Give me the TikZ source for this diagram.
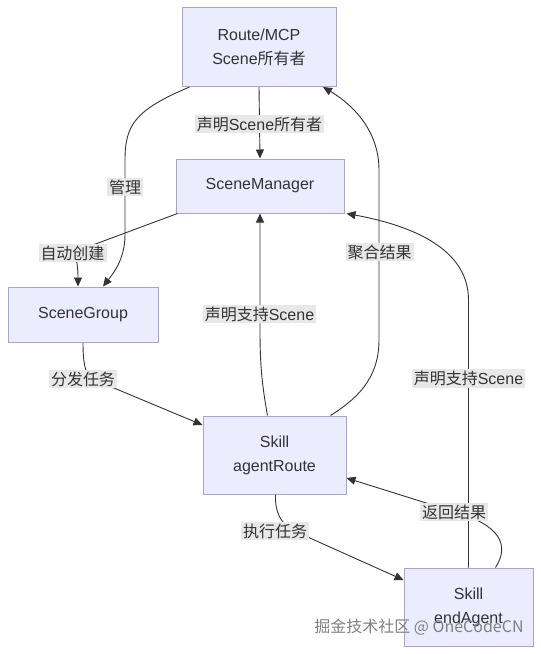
\documentclass[tikz,border=0pt]{standalone}
\usepackage{fontspec}
\setmainfont{Liberation Sans}
\newfontfamily\zhfont{Noto Sans CJK SC}
\newcommand{\zh}[1]{{\zhfont #1}}
\usetikzlibrary{arrows.meta}
\definecolor{boxfill}{HTML}{ECECFF}
\definecolor{boxline}{HTML}{ADA0DE}
\definecolor{ink}{HTML}{333333}
\definecolor{tagfill}{HTML}{E8E8E8}

\begin{document}
\begin{tikzpicture}[x=1pt,y=-1pt,
  box/.style={draw=boxline, fill=boxfill, line width=1pt, text=ink, inner sep=0pt, align=center, font=\fontsize{16}{24}\selectfont},
  tag/.style={fill=tagfill, text=ink, inner sep=2pt, font=\fontsize{16}{19}\selectfont},
  flow/.style={draw=ink, line width=0.9pt, -{Triangle[length=9pt,width=8pt]}}]
\useasboundingbox (0,0) rectangle (541,654);

% the five boxes
\node[box, minimum width=154, minimum height=79] (route) at (259,47) {Route/MCP\\Scene\zh{所有者}};
\node[box, minimum width=168, minimum height=54] (manager) at (260,186) {\raisebox{-2pt}{SceneManager}};
\node[box, minimum width=150, minimum height=55] (group) at (83,314.5) {\raisebox{-2pt}{SceneGroup}};
\node[box, minimum width=143, minimum height=78] (agentroute) at (274.5,455) {Skill\\agentRoute};
\node[box, minimum width=129, minimum height=78] (endagent) at (468.5,607) {Skill\\endAgent};

% connectors
\draw[flow] (route.south) -- (manager.north);
\draw[flow] ([xshift=8pt]route.south west) .. controls (135,110) and (125,125) .. (125,160) -- (125,235) .. controls (125,260) and (112,275) .. ([xshift=20pt]group.north);
\draw[flow] ([xshift=2pt]manager.south west) -- (74,252) .. controls (78,262) and (78,275) .. ([xshift=-5pt]group.north);
\draw[flow] (group.south) .. controls (83,362) and (85,372) .. (90,378) -- ([yshift=30pt]agentroute.west);
\draw[flow] ([xshift=-7pt]agentroute.north) .. controls (262,385) and (260,365) .. (260,330) -- (manager.south);
\draw[flow] ([xshift=56pt]agentroute.north) .. controls (355,400) and (379,380) .. (379,340) -- (379,170) .. controls (379,125) and (345,100) .. ([xshift=64pt]route.south);
\draw[flow] (endagent.north) -- (468.5,300) .. controls (468.5,255) and (425,228) .. ([xshift=2pt]manager.south east);
\draw[flow] ([xshift=1pt]agentroute.south) .. controls (275,512) and (280,522) .. (292,530) -- ([yshift=27pt]endagent.west);
\draw[flow] ([xshift=27pt]endagent.north) .. controls (510,545) and (500,525) .. (455,512) -- ([yshift=-23pt]agentroute.east);

% edge labels
\node[tag] (own) at (259.5,124) {\zh{声明}Scene\zh{所有者}};
\node[tag] (manage) at (125,187) {\zh{管理}};
\node[tag] (create) at (72.5,253) {\zh{自动创建}};
\node[tag] (dispatch) at (83,379) {\zh{分发任务}};
\node[tag] (support) at (259.5,314) {\zh{声明支持}Scene};
\node[tag] (collect) at (379.5,252) {\zh{聚合结果}};
\node[tag] (support2) at (468.5,378.5) {\zh{声明支持}Scene};
\node[tag] (run) at (275,531) {\zh{执行任务}};
\node[tag] (back) at (454,512) {\zh{返回结果}};

% watermark
\node[text=black!50, font=\zhfont\fontsize{16}{19}\selectfont] (mark) at (419,627) {掘金技术社区 @ OneCodeCN};
\end{tikzpicture}
\end{document}
